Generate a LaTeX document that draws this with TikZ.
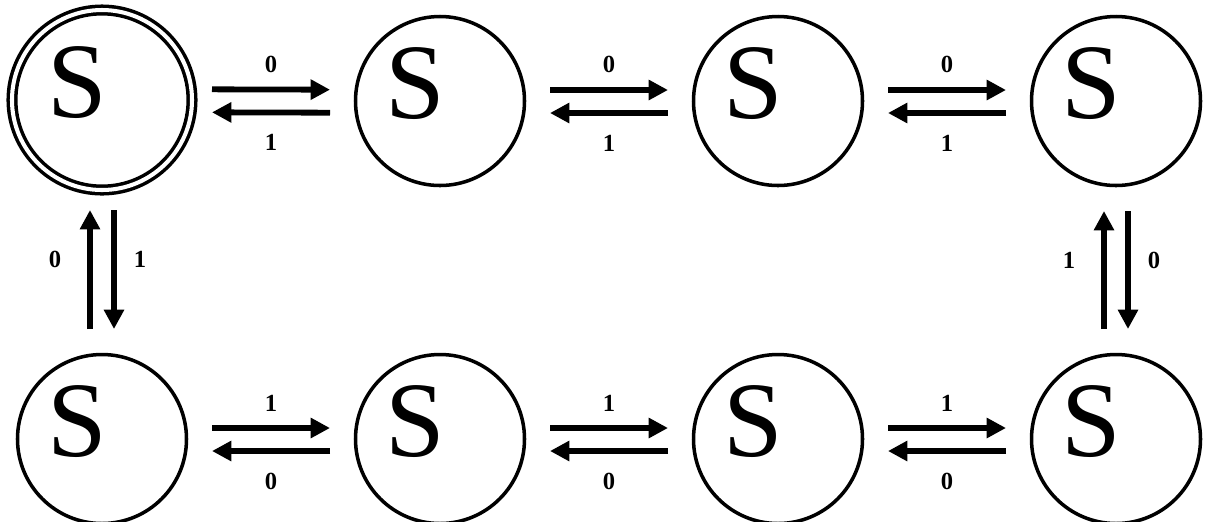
\documentclass[tikz,border=0pt]{standalone}
\usepackage{fontspec}
\setmainfont{Liberation Serif}
\usepackage{tikz}
\usetikzlibrary{arrows.meta}

\tikzset{
  state/.style={circle, draw, line width=2pt, minimum size=33.8mm, inner sep=0pt, outer sep=0pt,
    label={[font=\fontsize{61}{64}\selectfont, xshift=-5mm, yshift=3.4mm]center:S}},
  start/.style={state, double, double distance=2.3pt, minimum size=36mm},
  trans/.style={-{Triangle[length=11pt,width=11pt]}, line width=3.3pt,
    shorten <=22mm, shorten >=22mm},
  bit/.style={font=\fontsize{14}{16}\selectfont\bfseries, inner sep=0pt},
}

\begin{document}
\begin{tikzpicture}[x=0.2mm, y=-0.2mm]
  \useasboundingbox (0,0) rectangle (1211,521);
  \clip (0,0) rectangle (1211,521);
  % states
  \node[start] (t1) at (102,100) {};
  \node[state] (t2) at (440,101) {};
  \node[state] (t3) at (778,101) {};
  \node[state] (t4) at (1116,101) {};
  \node[state] (b1) at (102,439) {};
  \node[state] (b2) at (440,439) {};
  \node[state] (b3) at (778,439) {};
  \node[state] (b4) at (1116,439) {};
  % top row
  \draw[trans] ([yshift=2.2mm]t1.center) -- node[bit, above=2.8mm]{0} ([yshift=2.2mm]t2.center);
  \draw[trans] ([yshift=-2.4mm]t2.center) -- node[bit, below=3.8mm]{1} ([yshift=-2.4mm]t1.center);
  \draw[trans] ([yshift=2.2mm]t2.center) -- node[bit, above=2.8mm]{0} ([yshift=2.2mm]t3.center);
  \draw[trans] ([yshift=-2.4mm]t3.center) -- node[bit, below=3.8mm]{1} ([yshift=-2.4mm]t2.center);
  \draw[trans] ([yshift=2.2mm]t3.center) -- node[bit, above=2.8mm]{0} ([yshift=2.2mm]t4.center);
  \draw[trans] ([yshift=-2.4mm]t4.center) -- node[bit, below=3.8mm]{1} ([yshift=-2.4mm]t3.center);
  % bottom row
  \draw[trans] ([yshift=2.2mm]b1.center) -- node[bit, above=2.8mm]{1} ([yshift=2.2mm]b2.center);
  \draw[trans] ([yshift=-2.4mm]b2.center) -- node[bit, below=3.8mm]{0} ([yshift=-2.4mm]b1.center);
  \draw[trans] ([yshift=2.2mm]b2.center) -- node[bit, above=2.8mm]{1} ([yshift=2.2mm]b3.center);
  \draw[trans] ([yshift=-2.4mm]b3.center) -- node[bit, below=3.8mm]{0} ([yshift=-2.4mm]b2.center);
  \draw[trans] ([yshift=2.2mm]b3.center) -- node[bit, above=2.8mm]{1} ([yshift=2.2mm]b4.center);
  \draw[trans] ([yshift=-2.4mm]b4.center) -- node[bit, below=3.8mm]{0} ([yshift=-2.4mm]b3.center);
  % columns
  \draw[trans] ([xshift=-2.4mm]b1.center) -- node[bit, left=5.2mm, yshift=2mm]{0} ([xshift=-2.4mm]t1.center);
  \draw[trans] ([xshift=2.4mm]t1.center) -- node[bit, right=3.4mm, yshift=2mm]{1} ([xshift=2.4mm]b1.center);
  \draw[trans] ([xshift=-2.4mm]b4.center) -- node[bit, left=5.2mm, yshift=2mm]{1} ([xshift=-2.4mm]t4.center);
  \draw[trans] ([xshift=2.4mm]t4.center) -- node[bit, right=3.4mm, yshift=2mm]{0} ([xshift=2.4mm]b4.center);
\end{tikzpicture}
\end{document}
